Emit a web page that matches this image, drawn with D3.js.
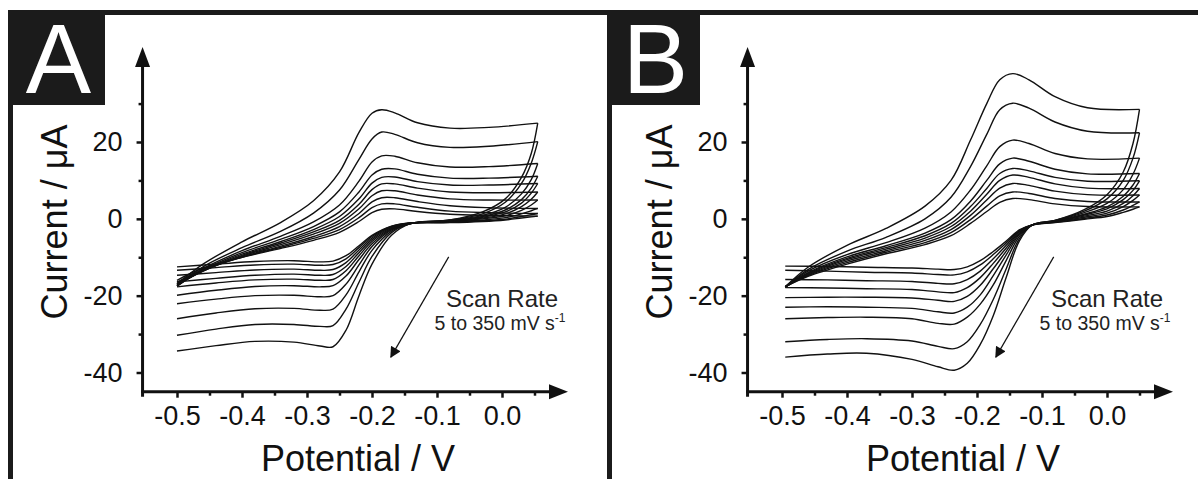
<!DOCTYPE html>
<html>
<head>
<meta charset="utf-8">
<script src="https://cdn.jsdelivr.net/npm/d3@7"></script>
<style>
  body { margin: 0; background: #fff; }
  svg text { font-family: "Liberation Sans", Arial, Helvetica, sans-serif; }
</style>
</head>
<body>
<div id="chart"></div>
<script>
// TICKS
var yTicks = [-40, -20, 0, 20];
var yMinorTicks = [-30, -10, 10, 30];
var xTicks = [-0.5, -0.4, -0.3, -0.2, -0.1, 0.0];
var xMinorTicks = [-0.45, -0.35, -0.25, -0.15, -0.05, 0.05];

// PANEL A (potential in V, current in uA), curves from slowest to fastest scan
var potentialFwdA = [-0.5, -0.46, -0.4, -0.34, -0.29, -0.25, -0.22, -0.2, -0.185, -0.165, -0.13, -0.08, -0.02, 0.055];
var potentialRevA = [0.055, 0.045, 0.03, 0.005, -0.03, -0.08, -0.14, -0.17, -0.2, -0.22, -0.24, -0.26, -0.28, -0.32, -0.38, -0.44, -0.5];
var currentFwdA = [
  [-16.0, -12.8, -10.0, -7.7, -5.6, -3.5, -0.7, 1.6, 2.5, 2.6, 1.9, 1.2, 0.9, 0.7],
  [-16.5, -13.2, -10.0, -7.4, -5.1, -2.8, 0.3, 2.9, 3.9, 3.9, 3.0, 2.0, 1.6, 1.4],
  [-16.8, -13.4, -9.9, -7.1, -4.6, -2.0, 1.4, 4.4, 5.5, 5.5, 4.5, 3.4, 2.9, 2.7],
  [-17.0, -13.6, -9.7, -6.7, -4.0, -1.2, 2.6, 6.0, 7.3, 7.3, 6.2, 5.2, 4.9, 4.9],
  [-17.2, -13.6, -9.5, -6.3, -3.4, -0.4, 3.8, 7.6, 9.1, 9.1, 8.0, 7.0, 6.8, 7.0],
  [-17.3, -13.5, -9.2, -5.9, -2.8, 0.6, 5.2, 9.3, 10.8, 10.9, 9.7, 8.8, 8.8, 9.2],
  [-17.5, -13.3, -8.8, -5.3, -2.0, 1.8, 7.0, 11.4, 12.9, 13.0, 11.6, 10.6, 10.6, 11.1],
  [-17.5, -13.0, -8.3, -4.5, -0.8, 3.6, 9.8, 14.8, 16.4, 16.3, 14.6, 13.5, 13.6, 14.4],
  [-17.5, -12.5, -7.5, -3.2, 1.5, 7.5, 15.5, 20.8, 22.6, 22.0, 19.8, 18.6, 18.9, 20.1],
  [-17.0, -11.8, -6.0, -0.9, 4.7, 12.2, 22.5, 27.5, 28.4, 27.6, 25.0, 23.6, 23.8, 24.9]
];
var currentRevA = [
  [0.7, 0.5, 0.2, -0.3, -0.7, -1.0, -1.1, -1.9, -4.3, -7.0, -9.6, -11.0, -11.2, -10.9, -11.1, -11.8, -12.5],
  [1.4, 1.1, 0.6, -0.1, -0.5, -0.9, -1.1, -2.0, -4.6, -7.5, -10.4, -11.9, -12.1, -11.8, -12.0, -12.7, -13.4],
  [2.7, 2.1, 1.3, 0.3, -0.3, -0.8, -1.1, -2.1, -5.0, -8.1, -11.4, -13.2, -13.4, -13.1, -13.3, -14.0, -14.7],
  [4.9, 3.6, 2.2, 0.8, 0.0, -0.7, -1.1, -2.3, -5.4, -8.8, -12.4, -14.5, -14.7, -14.4, -14.7, -15.5, -16.4],
  [7.0, 5.1, 3.2, 1.3, 0.2, -0.6, -1.1, -2.5, -5.9, -9.6, -13.5, -15.8, -16.0, -15.7, -15.9, -16.7, -17.7],
  [9.2, 6.7, 4.1, 1.8, 0.4, -0.6, -1.2, -2.7, -6.5, -10.6, -14.9, -17.4, -17.7, -17.4, -17.6, -18.6, -19.9],
  [11.1, 8.0, 5.0, 2.3, 0.6, -0.5, -1.2, -2.9, -7.2, -12.0, -17.0, -20.0, -20.3, -19.9, -20.0, -20.9, -22.1],
  [14.4, 10.2, 6.5, 3.0, 0.9, -0.4, -1.2, -3.2, -8.2, -13.8, -19.8, -23.5, -23.8, -23.3, -23.4, -24.5, -26.0],
  [20.1, 14.5, 9.2, 4.3, 1.3, -0.3, -1.2, -3.6, -9.8, -16.5, -23.5, -27.8, -28.0, -27.5, -27.5, -28.7, -30.3],
  [24.9, 17.0, 10.8, 5.2, 1.8, -0.3, -1.2, -4.3, -11.8, -20.0, -29.0, -33.3, -33.1, -32.1, -31.9, -33.0, -34.4]
];

// PANEL B
var potentialFwdB = [-0.495, -0.46, -0.4, -0.34, -0.28, -0.24, -0.21, -0.185, -0.165, -0.145, -0.12, -0.08, -0.03, 0.05];
var potentialRevB = [0.05, 0.04, 0.025, 0.0, -0.035, -0.08, -0.115, -0.135, -0.155, -0.175, -0.195, -0.215, -0.235, -0.26, -0.3, -0.37, -0.43, -0.495];
var currentFwdB = [
  [-17.7, -15.0, -11.8, -9.1, -6.7, -4.4, -1.2, 1.9, 4.3, 5.3, 5.0, 3.9, 3.2, 3.1],
  [-17.7, -14.8, -11.4, -8.7, -6.2, -3.6, -0.2, 3.3, 6.0, 7.0, 6.6, 5.3, 4.5, 4.4],
  [-17.7, -14.6, -11.0, -8.3, -5.6, -2.8, 0.9, 4.9, 8.0, 9.2, 8.7, 7.2, 6.3, 6.2],
  [-17.7, -14.4, -10.6, -7.9, -5.0, -2.0, 2.0, 6.4, 10.0, 11.4, 10.8, 9.1, 8.0, 7.9],
  [-17.7, -14.2, -10.3, -7.5, -4.4, -1.2, 3.2, 7.9, 11.8, 13.1, 12.5, 10.8, 9.8, 9.9],
  [-17.7, -14.0, -9.9, -7.0, -3.7, -0.2, 4.6, 10.0, 14.3, 15.8, 15.0, 12.9, 11.7, 11.8],
  [-17.7, -13.6, -9.3, -6.2, -2.4, 1.8, 7.5, 13.8, 18.8, 20.5, 19.6, 17.0, 15.6, 15.8],
  [-17.7, -13.2, -8.4, -4.8, 0.0, 5.6, 13.6, 22.0, 28.4, 30.1, 28.8, 25.2, 22.8, 22.4],
  [-17.7, -12.6, -6.9, -2.5, 3.3, 10.0, 20.5, 30.0, 36.2, 37.8, 36.2, 31.8, 28.9, 28.5]
];
var currentRevB = [
  [3.1, 2.5, 1.7, 0.6, -0.1, -1.0, -1.6, -2.9, -5.8, -8.5, -10.9, -12.5, -13.2, -13.1, -12.8, -12.6, -12.4, -12.3],
  [4.4, 3.5, 2.3, 1.0, 0.1, -0.9, -1.6, -3.1, -6.3, -9.3, -12.0, -13.8, -14.6, -14.5, -14.1, -13.9, -13.6, -13.4],
  [6.2, 4.8, 3.2, 1.5, 0.4, -0.8, -1.6, -3.3, -6.9, -10.4, -13.6, -15.8, -16.9, -16.8, -16.3, -16.1, -15.9, -15.8],
  [7.9, 6.0, 4.0, 2.0, 0.7, -0.7, -1.6, -3.5, -7.6, -11.6, -15.3, -17.9, -19.2, -19.0, -18.4, -18.2, -18.0, -17.9],
  [9.9, 7.4, 5.0, 2.6, 1.0, -0.6, -1.6, -3.8, -8.4, -13.0, -17.3, -20.2, -21.5, -21.2, -20.6, -20.4, -20.4, -20.5],
  [11.8, 8.8, 5.9, 3.1, 1.2, -0.6, -1.6, -4.1, -9.4, -14.8, -19.8, -23.0, -24.5, -24.2, -23.3, -23.0, -22.9, -23.0],
  [15.8, 11.6, 7.6, 4.0, 1.6, -0.5, -1.6, -4.6, -10.8, -17.2, -22.2, -25.6, -27.4, -27.2, -26.0, -25.6, -25.7, -26.0],
  [22.4, 15.8, 10.0, 5.2, 2.0, -0.4, -1.6, -5.2, -13.0, -21.0, -27.5, -32.0, -33.8, -33.2, -31.8, -31.2, -31.4, -32.0],
  [28.5, 19.6, 12.2, 6.3, 2.4, -0.4, -1.6, -5.8, -15.2, -25.2, -32.7, -37.6, -39.4, -38.5, -36.6, -35.0, -35.2, -36.0]
];

// ANNOTATION (arrow start / end and text anchor, in data units)
var scanArrow = [[-0.082, -9.9], [-0.171, -36.0]];
var scanTextAt = [0.0, -23.0];

// CHART SETUP
var W = 1198, H = 479;
var ink = "#111";
var frameColor = "#1b1b1b";

var svg = d3.select("#chart")
  .append("svg")
  .attr("width", W)
  .attr("height", H);

svg.append("defs")
  .append("marker")
  .attr("id", "head")
  .attr("viewBox", "0 0 10 10")
  .attr("refX", 9)
  .attr("refY", 5)
  .attr("markerWidth", 12)
  .attr("markerHeight", 11)
  .attr("markerUnits", "userSpaceOnUse")
  .attr("orient", "auto")
  .append("path")
  .attr("d", "M0,0 L10,5 L0,10 Z")
  .attr("fill", ink);

// FRAME
svg.append("rect").attr("x", 8).attr("y", 10).attr("width", W - 8).attr("height", 5).attr("fill", frameColor);
svg.append("rect").attr("x", 8).attr("y", 10).attr("width", 5).attr("height", H - 10).attr("fill", frameColor);
svg.append("rect").attr("x", 607).attr("y", 10).attr("width", 5).attr("height", H - 10).attr("fill", frameColor);

function drawPanel(p) {
  var g = svg.append("g");

  // label box
  g.append("rect")
    .attr("x", p.boxX).attr("y", 10)
    .attr("width", p.boxW).attr("height", 95)
    .attr("fill", frameColor);
  g.append("text")
    .attr("x", p.boxX + p.boxW / 2 + 2)
    .attr("y", 93)
    .attr("text-anchor", "middle")
    .style("font-size", "98px")
    .style("fill", "#fff")
    .text(p.letter);

  var x = d3.scaleLinear().domain([-0.5, 0]).range([p.left, p.left + 325]);
  var y = d3.scaleLinear().domain([-40, 20]).range([372.5, 142]);

  var axX = x(-0.553);
  var axY = y(-45);

  // X AXIS
  var xMajor = g.append("g")
    .attr("transform", "translate(0," + axY + ")")
    .call(d3.axisBottom(x).tickValues(xTicks).tickSize(6).tickFormat((d) => d.toFixed(1)));
  xMajor.select(".domain").remove();
  xMajor.selectAll("line").attr("stroke", ink).attr("stroke-width", 2.5);
  xMajor.selectAll("text")
    .attr("y", 33.5).attr("dy", 0)
    .style("font-size", "27px").style("fill", ink)
    .style("font-family", "'Liberation Sans', Arial, sans-serif");

  var xMinor = g.append("g")
    .attr("transform", "translate(0," + axY + ")")
    .call(d3.axisBottom(x).tickValues(xMinorTicks).tickSize(4).tickFormat(""));
  xMinor.select(".domain").remove();
  xMinor.selectAll("line").attr("stroke", ink).attr("stroke-width", 2.5);

  // Y AXIS
  var yMajor = g.append("g")
    .attr("transform", "translate(" + axX + ",0)")
    .call(d3.axisLeft(y).tickValues(yTicks).tickSize(6).tickPadding(14).tickFormat((d) => String(d)));
  yMajor.select(".domain").remove();
  yMajor.selectAll("line").attr("stroke", ink).attr("stroke-width", 2.5);
  yMajor.selectAll("text")
    .style("font-size", "27px").style("fill", ink)
    .style("font-family", "'Liberation Sans', Arial, sans-serif");

  var yMinor = g.append("g")
    .attr("transform", "translate(" + axX + ",0)")
    .call(d3.axisLeft(y).tickValues(yMinorTicks).tickSize(4).tickFormat(""));
  yMinor.select(".domain").remove();
  yMinor.selectAll("line").attr("stroke", ink).attr("stroke-width", 2.5);

  // axis lines with arrows
  var xTip = x(0.1015), yTip = y(44.7);
  g.append("line")
    .attr("x1", axX - 1.5).attr("x2", xTip - 10)
    .attr("y1", axY).attr("y2", axY)
    .attr("stroke", ink).attr("stroke-width", 3);
  g.append("line")
    .attr("x1", axX).attr("x2", axX)
    .attr("y1", axY + 5).attr("y2", yTip + 10)
    .attr("stroke", ink).attr("stroke-width", 3);
  g.append("path")
    .attr("d", "M" + xTip + "," + axY + " L" + (xTip - 19) + "," + (axY - 7.5) + " L" + (xTip - 19) + "," + (axY + 7.5) + " Z")
    .attr("fill", ink);
  g.append("path")
    .attr("d", "M" + axX + "," + yTip + " L" + (axX - 7.5) + "," + (yTip + 20) + " L" + (axX + 7.5) + "," + (yTip + 20) + " Z")
    .attr("fill", ink);

  // AXIS TITLES
  g.append("text")
    .attr("x", x(-0.5) + 181)
    .attr("y", 471)
    .attr("text-anchor", "middle")
    .style("font-size", "36px").style("fill", ink)
    .text("Potential / V");
  g.append("text")
    .attr("transform", "translate(" + (axX - 76) + "," + 222 + ") rotate(-90)")
    .attr("text-anchor", "middle")
    .style("font-size", "36px").style("fill", ink)
    .text("Current / \u03bcA");

  // CURVES
  var line = d3.line()
    .x((d) => x(d[0]))
    .y((d) => y(d[1]))
    .curve(d3.curveCatmullRom.alpha(0.5));

  var branches = [];
  p.fwd.forEach(function (c) {
    branches.push(d3.zip(p.potFwd, c));
  });
  p.rev.forEach(function (c) {
    branches.push(d3.zip(p.potRev, c));
  });

  g.selectAll(".cv")
    .data(branches)
    .enter()
    .append("path")
    .attr("class", "cv")
    .attr("d", line)
    .attr("fill", "none")
    .attr("stroke", ink)
    .attr("stroke-width", 1.4)
    .attr("stroke-linejoin", "round");

  // SCAN RATE NOTE
  g.append("line")
    .attr("x1", x(scanArrow[0][0])).attr("y1", y(scanArrow[0][1]))
    .attr("x2", x(scanArrow[1][0])).attr("y2", y(scanArrow[1][1]))
    .attr("stroke", ink).attr("stroke-width", 1.2)
    .attr("marker-end", "url(#head)");
  var tx = x(scanTextAt[0]), ty = y(scanTextAt[1]);
  g.append("text")
    .attr("x", tx).attr("y", ty)
    .attr("text-anchor", "middle")
    .style("font-size", "24px").style("fill", "#222")
    .text("Scan Rate");
  var t2 = g.append("text")
    .attr("x", tx - 2).attr("y", ty + 23)
    .attr("text-anchor", "middle")
    .style("font-size", "19.5px").style("fill", "#222");
  t2.append("tspan").text("5 to 350 mV s");
  t2.append("tspan").attr("dy", -8).style("font-size", "12px").text("-1");
}

drawPanel({
  letter: "A", boxX: 8, boxW: 97, left: 177,
  potFwd: potentialFwdA, potRev: potentialRevA, fwd: currentFwdA, rev: currentRevA
});
drawPanel({
  letter: "B", boxX: 607, boxW: 93, left: 782,
  potFwd: potentialFwdB, potRev: potentialRevB, fwd: currentFwdB, rev: currentRevB
});
</script>
</body>
</html>
